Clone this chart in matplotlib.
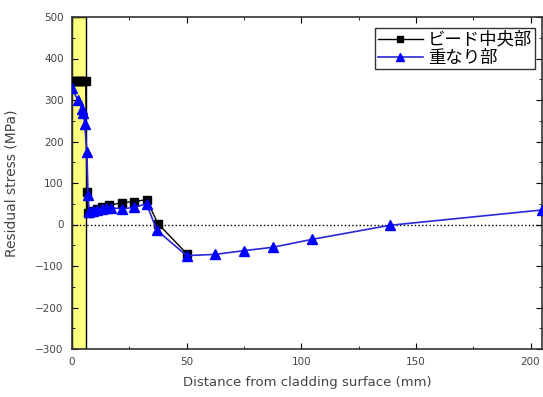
import matplotlib.pyplot as plt
from matplotlib.ticker import MultipleLocator

plt.rcParams['font.family'] = ['DejaVu Sans']

# bead centre series (black squares)
bead_x = [0, 1, 2, 3, 4, 5, 6, 6.5, 7, 9, 11, 13, 16, 22, 27, 32.5, 37.5, 50]
bead_y = [345, 345, 345, 345, 345, 345, 345, 78, 27, 33, 38, 41, 46, 53, 55, 60, 2, -70]

# overlap series (blue triangles)
lap_x = [0, 2.5, 4.5, 5, 5.5, 6.5, 7, 7.5, 9, 11, 13, 15, 17, 22, 27, 32.5, 37, 50, 62.5, 75, 87.5, 104.5, 138.5, 205]
lap_y = [328, 300, 278, 268, 243, 174, 70, 30, 33, 36, 38, 40, 40, 38, 41, 50, -14, -75, -72, -63, -55, -36, -2, 35]

legend_labels = ['ビード中央部', '重なり部']

fig = plt.figure(figsize=(5.43, 3.97), dpi=100)
ax = fig.add_axes([72 / 543, 48 / 397, 470 / 543, 332 / 397])

# cladding layer band
ax.axvspan(0, 6, facecolor='#ffff80', edgecolor='black', linewidth=1, zorder=0)
ax.axhline(0, color='black', linestyle=':', linewidth=1, zorder=1)

ax.plot(bead_x, bead_y, color='black', linewidth=1, marker='s', markersize=5.5,
        label=legend_labels[0], zorder=3)
ax.plot(lap_x, lap_y, color='#2828d8', linewidth=1.2, marker='^', markersize=7,
        markerfacecolor='blue', markeredgecolor='blue', label=legend_labels[1], zorder=4)

ax.set_xlim(0, 205)
ax.set_ylim(-300, 500)
ax.xaxis.set_major_locator(MultipleLocator(50))
ax.xaxis.set_minor_locator(MultipleLocator(25))
ax.yaxis.set_major_locator(MultipleLocator(100))
ax.yaxis.set_minor_locator(MultipleLocator(50))
ax.tick_params(which='both', direction='in', top=True, right=True,
               labelsize=7.5, labelcolor='#444444', pad=6)
ax.tick_params(which='major', length=4)
ax.tick_params(which='minor', length=2)
for s in ax.spines.values():
    s.set_linewidth(1.2)
    s.set_color('#333333')

ax.set_xlabel('Distance from cladding surface (mm)', fontsize=9.5, color='#444444', labelpad=6)
ax.set_ylabel('Residual stress (MPa)', fontsize=10, color='#444444', labelpad=12)

leg = ax.legend(loc='upper right', bbox_to_anchor=(0.985, 0.966),
                prop={'family': ['Noto Sans CJK JP', 'DejaVu Sans'], 'size': 12.5},
                frameon=True, fancybox=False, edgecolor='black', handlelength=2.6,
                markerscale=0.8, borderpad=0.15, labelspacing=0.0, handletextpad=0.3,
                borderaxespad=0)
leg.get_frame().set_linewidth(1)

fig.savefig('out.png', dpi=100)
